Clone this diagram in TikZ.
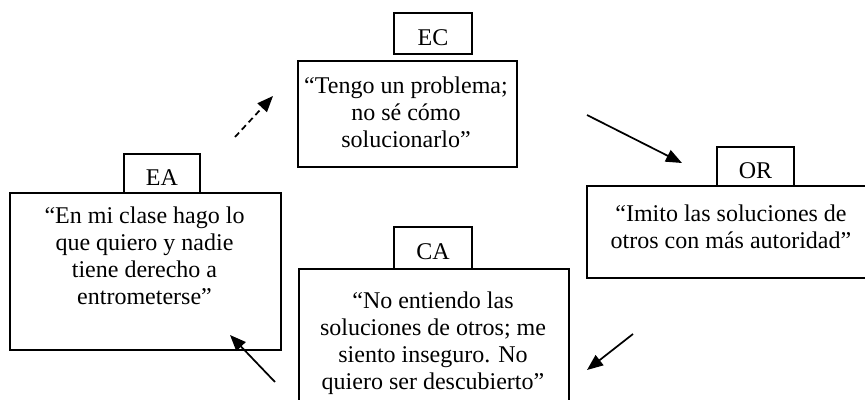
\documentclass[tikz,border=0pt]{standalone}
\usepackage{fontspec}
\setmainfont{Liberation Serif}
\usetikzlibrary{arrows.meta}
\begin{document}
\begin{tikzpicture}[x=0.75pt,y=-0.75pt,
  box/.style={draw, line width=1.4pt, fill=white, inner sep=0pt, anchor=north west},
  tag/.style={box, font=\fontsize{18pt}{20.25pt}\selectfont, text height=18pt, text depth=0pt},
  quote/.style={font=\fontsize{18pt}{20.25pt}\selectfont, align=center, inner sep=0pt, anchor=north},
  conn/.style={line width=1.3pt, -{Triangle[length=12pt,width=9.5pt]}},
  dconn/.style={conn, dash pattern=on 4.5pt off 3pt}]
\useasboundingbox (0,0) rectangle (865,400);
\clip (0,0) rectangle (865,400);
\fill[white] (0,0) rectangle (865,400);
% EC
\node[tag, minimum width=58.5pt, minimum height=30.75pt] (ectag) at (393,12) {EC};
\node[box, minimum width=164.25pt, minimum height=79.5pt] (ecbox) at (297,60) {};
\node[quote] (ectext) at (406,74.1) {\strut“Tengo un problema;\\no sé cómo\\solucionarlo”};
% EA
\node[tag, minimum width=57pt, minimum height=29.25pt] (eatag) at (123,153) {EA};
\node[box, minimum width=203.25pt, minimum height=117.75pt] (eabox) at (9,192) {};
\node[quote] (eatext) at (144.5,204.1) {\strut“En mi clase hago lo\\que quiero y nadie\\tiene derecho a\\entrometerse”};
% CA
\node[tag, minimum width=58.5pt, minimum height=31.5pt] (catag) at (393,226) {CA};
\node[box, minimum width=202.5pt, minimum height=112.5pt] (cabox) at (298,268) {};
\node[quote] (catext) at (433,289.1) {\strut“No entiendo las\\soluciones de otros; me\\siento inseguro. No\\quiero ser descubierto”};
% OR
\node[tag, minimum width=57.75pt, minimum height=29.25pt] (ortag) at (716,146) {OR};
\node[box, minimum width=217.5pt, minimum height=69pt] (orbox) at (586,185) {};
\node[quote] (ortext) at (731,202.1) {\strut“Imito las soluciones de\\otros con más autoridad”};
% connectors
\coordinate (d1) at (235,137); \coordinate (d2) at (273,96);
\coordinate (a1) at (587,115); \coordinate (a2) at (682,163);
\coordinate (b1) at (633,334); \coordinate (b2) at (587,370);
\coordinate (c1) at (275,382); \coordinate (c2) at (230,335);
\draw[dconn] (d1) -- (d2);
\draw[conn] (a1) -- (a2);
\draw[conn] (b1) -- (b2);
\draw[conn] (c1) -- (c2);
\end{tikzpicture}
\end{document}
